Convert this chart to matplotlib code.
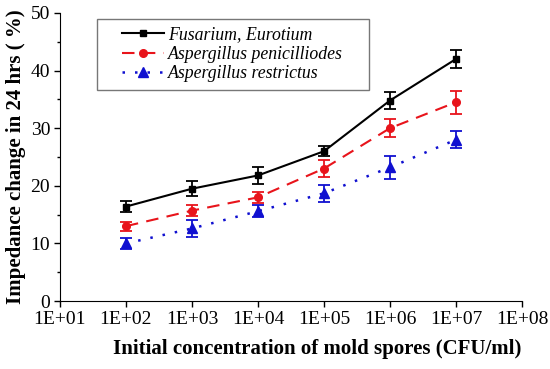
import numpy as np
import matplotlib.pyplot as plt
from matplotlib.lines import Line2D
from matplotlib.legend_handler import HandlerLine2D
from matplotlib.ticker import FixedLocator, FuncFormatter, MultipleLocator

plt.rcParams['font.family'] = ['Liberation Serif', 'DejaVu Serif']

spores = [1e2, 1e3, 1e4, 1e5, 1e6, 1e7]
fusarium = [16.4, 19.5, 21.8, 26.0, 34.8, 42.0]
fusarium_err = [1.0, 1.3, 1.5, 0.9, 1.4, 1.6]
penicilliodes = [13.0, 15.7, 18.0, 23.0, 30.0, 34.5]
penicilliodes_err = [0.8, 1.0, 1.0, 1.5, 1.6, 2.0]
restrictus = [10.0, 12.6, 15.6, 18.7, 23.2, 28.0]
restrictus_err = [0.9, 1.4, 1.0, 1.5, 2.0, 1.5]
labels = ['Fusarium, Eurotium', 'Aspergillus penicilliodes', 'Aspergillus restrictus']


# legend line only on the right part of the handle box, like the original
class RightHandler(HandlerLine2D):
    def create_artists(self, legend, orig_handle, xdescent, ydescent, width, height, fontsize, trans):
        shift = width * 0.3
        return super().create_artists(legend, orig_handle, xdescent - shift, ydescent,
                                      width - shift, height, fontsize, trans)


fig = plt.figure(figsize=(5.5, 3.69), dpi=100)
ax = fig.add_axes([0.109, 0.184, 0.84, 0.781])

styles = [
    dict(color='black', ls='-', marker='s', ms=5, lw=1.5),
    dict(color='#e8141b', ls=(0, (6, 4)), marker='o', ms=5.5, lw=1.5),
    dict(color='#1010d0', ls=(0, (1, 4)), marker='^', ms=6.5, lw=1.8),
]
series = [(fusarium, fusarium_err), (penicilliodes, penicilliodes_err), (restrictus, restrictus_err)]

handles = []
for (vals, errs), st, lab in zip(series, styles, labels):
    ax.errorbar(spores, vals, yerr=errs, capsize=4, elinewidth=1.3, capthick=1.3, **st)
    handles.append(Line2D([], [], label=lab, **st))

ax.set_xscale('log')
ax.set_xlim(1e1, 1e8)
ax.set_ylim(0, 50)
ax.xaxis.set_major_locator(FixedLocator([10.0 ** k for k in range(1, 9)]))
ax.xaxis.set_minor_locator(FixedLocator([]))
ax.xaxis.set_major_formatter(FuncFormatter(lambda v, p: '1E+%02d' % round(np.log10(v))))
ax.yaxis.set_major_locator(MultipleLocator(10))
ax.yaxis.set_minor_locator(MultipleLocator(5))

for s in ['top', 'right']:
    ax.spines[s].set_visible(False)
ax.tick_params(labelsize=14, direction='out', length=4, width=1, pad=3)
ax.tick_params(which='minor', length=2.5, width=1)

ax.set_xlabel('Initial concentration of mold spores (CFU/ml)', fontsize=15, fontweight='bold', labelpad=6)
ax.xaxis.set_label_coords(0.556, -0.13)
ax.set_ylabel('Impedance change in 24 hrs ( %)', fontsize=15, fontweight='bold', labelpad=3)

leg = ax.legend(handles=handles, loc='upper left', bbox_to_anchor=(0.08, 0.5, 0.589, 0.479),
                mode='expand', borderaxespad=0,
                prop={'family': 'Liberation Serif', 'style': 'italic', 'size': 12.8},
                handler_map={Line2D: RightHandler()},
                fancybox=False, edgecolor='#777777', handlelength=3.37, borderpad=0.4,
                labelspacing=0.15, handletextpad=0.22, framealpha=1)
leg.get_frame().set_linewidth(1.0)

fig.savefig('out.png', dpi=100)
